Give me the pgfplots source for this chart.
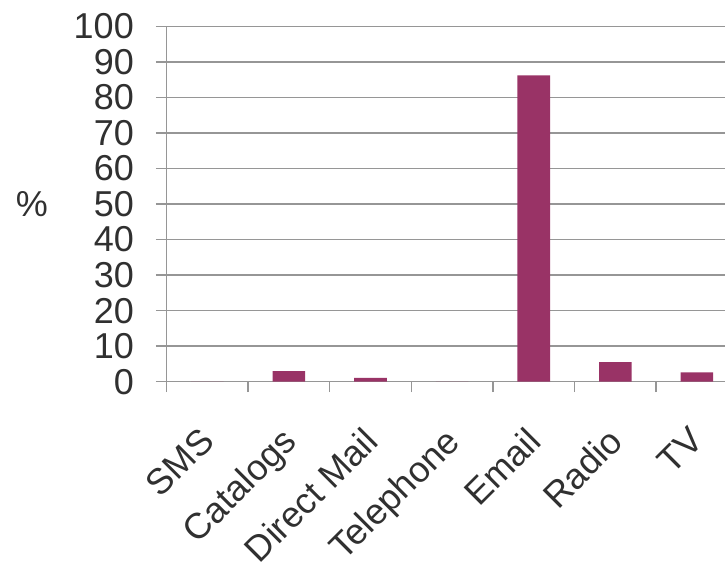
\documentclass[border=0pt]{standalone}
\usepackage{fontspec}
\setmainfont{Liberation Sans}
\usepackage{pgfplots}
\pgfplotsset{compat=1.18}
\definecolor{barcol}{HTML}{993366}
\definecolor{gridc}{HTML}{969696}
\definecolor{txt}{HTML}{303030}
\begin{document}
\begin{tikzpicture}
\begin{axis}[name=ax, at={(0,0)}, anchor=south west,
 scale only axis, width=571.2pt, height=355.4pt,
 xmin=-0.5, xmax=6.5, ymin=0, ymax=100,
 axis lines=left, axis line style={-, draw=gridc, line width=1.5pt},
 ytick={0,10,...,100}, ymajorgrids, grid style={draw=gridc, line width=1.5pt},
 xtick={-0.5,0.5,...,6.5}, x tick label as interval,
 xticklabels={SMS,Catalogs,Direct Mail,Telephone,Email,Radio,TV},
 tick align=outside, major tick length=10.5pt,
 tick style={draw=gridc, line width=1.5pt},
 /pgf/number format/assume math mode=true,
 ticklabel style={font=\fontsize{36}{43}\selectfont, text=txt, inner sep=0pt},
 yticklabel style={anchor=east, xshift=-22pt},
 xticklabel style={xshift=-9pt, yshift=-33pt, rotate=45, anchor=north east},
 ylabel={\%},
 ylabel style={font=\fontsize{36}{43}\selectfont, text=txt, rotate=-90, anchor=center, at={(rel axis cs:0,0.5)}, xshift=-134.5pt},
]
\addplot[ybar, bar width=32.6pt, fill=barcol, draw=none, bar shift=0pt] coordinates {(0,0) (1,3.0) (2,1.1) (3,0) (4,86.2) (5,5.5) (6,2.6)};
\end{axis}
\pgfresetboundingbox
\path[use as bounding box] ([xshift=-166.5pt,yshift=-180.3pt]ax.south west) rectangle ([xshift=558.5pt,yshift=381.7pt]ax.south west);
\end{tikzpicture}
\end{document}
